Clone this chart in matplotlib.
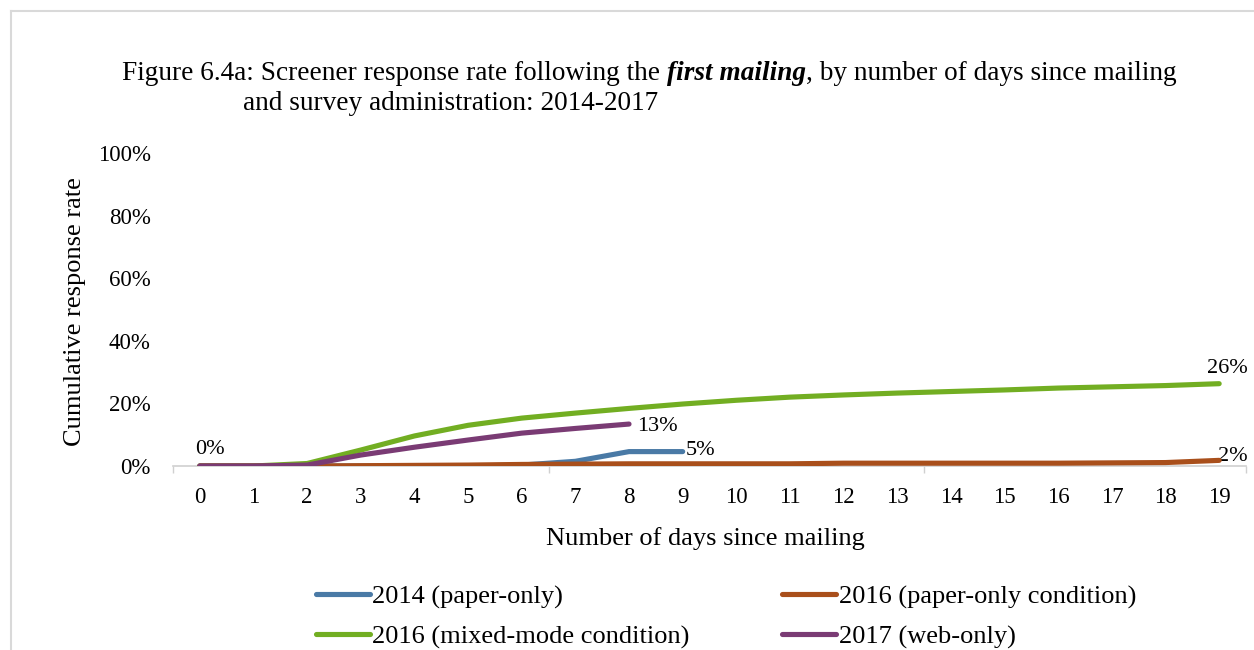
"""
Screener response rate after the first mailing, by days since mailing
"""

import matplotlib.pyplot as plt
from matplotlib.lines import Line2D

plt.rcParams["font.family"] = ["Liberation Serif", "DejaVu Serif"]

days = list(range(20))
day_labels = [str(d) for d in days]

# cumulative response rates (fraction)
paper_2014 = [0, 0, 0, 0, 0, 0, 0.003, 0.015, 0.046, 0.046]
paper_2016 = [0, 0, 0, 0.001, 0.002, 0.003, 0.005, 0.006, 0.007, 0.007,
              0.007, 0.007, 0.009, 0.009, 0.009, 0.009, 0.009, 0.010, 0.011, 0.018]
mixed_2016 = [0, 0, 0.008, 0.051, 0.096, 0.130, 0.153, 0.169, 0.184, 0.198,
              0.210, 0.220, 0.227, 0.233, 0.238, 0.243, 0.249, 0.253, 0.257, 0.263]
web_2017 = [0, 0, 0.003, 0.035, 0.060, 0.083, 0.105, 0.120, 0.134]

series_names = ["2014 (paper-only)", "2016 (paper-only condition)",
                "2016 (mixed-mode condition)", "2017 (web-only)"]
colors = ["#4A7AA6", "#A94F1B", "#72AE22", "#7A3B74"]

yticks = [0, 0.2, 0.4, 0.6, 0.8, 1.0]
ytick_labels = ["0%", "20%", "40%", "60%", "80%", "100%"]

fig = plt.figure(figsize=(12.54, 6.5), dpi=100)
ax = fig.add_axes([173 / 1254, 184 / 650, (1246 - 173) / 1254, (466 - 153) / 650])

lw = 3.7
ax.plot(days[:len(paper_2014)], paper_2014, color=colors[0], lw=lw, solid_capstyle="round", zorder=3)
ax.plot(days, mixed_2016, color=colors[2], lw=lw, solid_capstyle="round", zorder=3)
ax.plot(days[:len(web_2017)], web_2017, color=colors[3], lw=lw, solid_capstyle="round", zorder=5)
ax.plot(days, paper_2016, color=colors[1], lw=lw, solid_capstyle="round", zorder=4)

ax.set_xlim(-0.5, 19.5)
ax.set_ylim(0, 1.0)
ax.set_xticks(days)
ax.set_xticklabels(day_labels, fontsize=16.5)
ax.set_xticks([-0.5, 6.5, 13.5, 19.5], minor=True)
ax.tick_params(axis="x", which="major", length=0, pad=15)
ax.tick_params(axis="x", which="minor", length=5, color="#D0D0D0", width=1)
ax.set_yticks(yticks)
ax.set_yticklabels(ytick_labels, fontsize=16.5)
ax.tick_params(axis="y", length=0, pad=16)

for side in ["top", "right", "left"]:
    ax.spines[side].set_visible(False)
ax.spines["bottom"].set_color("#D0D0D0")
ax.spines["bottom"].set_linewidth(1.2)

fig.text(705 / 1254, 1 - 539 / 650, "Number of days since mailing",
         fontsize=19, ha="center", va="center")
fig.text(75 / 1254, 1 - 312 / 650, "Cumulative response rate", rotation=90,
         fontsize=19, ha="center", va="center")

# data labels
lab_kw = dict(textcoords="offset points", fontsize=16)
ax.annotate("0%", (0, 0), xytext=(7, 5), ha="center", va="bottom", **lab_kw)
ax.annotate("13%", (8, web_2017[-1]), xytext=(6, -2), ha="left", va="center", **lab_kw)
ax.annotate("5%", (9, paper_2014[-1]), xytext=(2, 1), ha="left", va="center", **lab_kw)
ax.annotate("26%", (19, mixed_2016[-1]), xytext=(6, 4), ha="center", va="bottom", **lab_kw)
ax.annotate("2%", (19, paper_2016[-1]), xytext=(9.5, 2.5), ha="center", va="center", **lab_kw)

# title with bold italic phrase
fs_title = 19.6
renderer = fig.canvas.get_renderer()
x0 = 122 / 1254
y1 = 1 - 73 / 650
parts = [("Figure 6.4a: Screener response rate following the ", "normal", "normal"),
         ("first mailing", "bold", "italic"),
         (", by number of days since mailing", "normal", "normal")]
x = x0
for txt, weight, style in parts:
    t = fig.text(x, y1, txt, fontsize=fs_title, fontweight=weight, fontstyle=style,
                 ha="left", va="center")
    bb = t.get_window_extent(renderer=renderer)
    x = x + bb.width / fig.bbox.width
fig.text(243 / 1254, 1 - 103 / 650, "and survey administration: 2014-2017",
         fontsize=fs_title, ha="left", va="center")

# legend
handles = [Line2D([], [], color=c, lw=lw, solid_capstyle="round") for c in colors]
order = [0, 2, 1, 3]
fig.legend([handles[i] for i in order], [series_names[i] for i in order],
           ncol=2, loc="center", bbox_to_anchor=(726 / 1254, 1 - 617 / 650),
           frameon=False, fontsize=19, handlelength=2.05, handletextpad=0.1,
           columnspacing=3.5, labelspacing=0.62)

# outer frame of the chart area
fig.add_artist(Line2D([11 / 1254, 1], [1 - 11 / 650, 1 - 11 / 650],
                      transform=fig.transFigure, color="#D9D9D9", lw=1.5))
fig.add_artist(Line2D([11 / 1254, 11 / 1254], [0, 1 - 11 / 650],
                      transform=fig.transFigure, color="#D9D9D9", lw=1.5))

fig.savefig("out.png", dpi=100)
